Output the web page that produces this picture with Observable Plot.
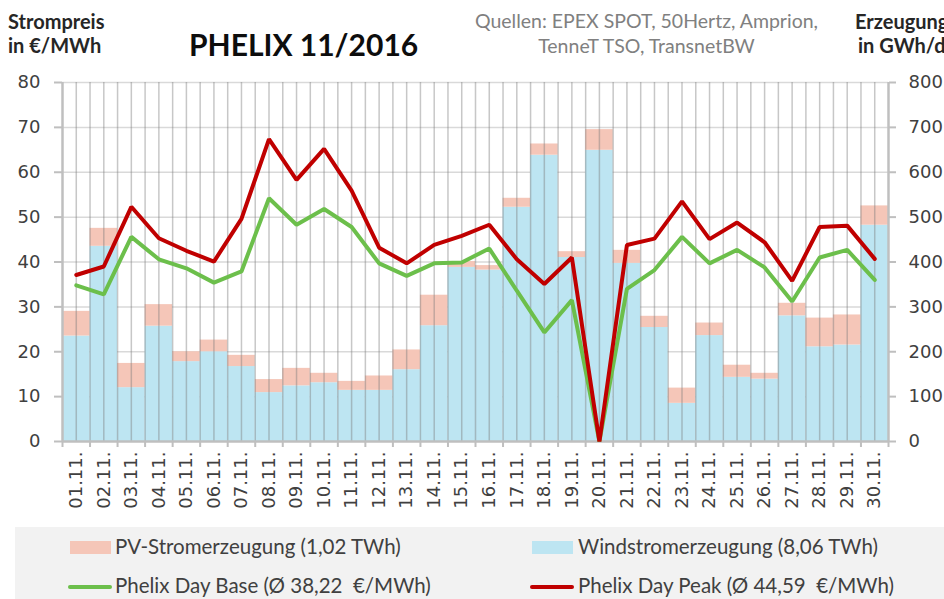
<!DOCTYPE html>
<html><head><meta charset="utf-8">
<script src="https://cdn.jsdelivr.net/npm/d3@7"></script>
<script src="https://cdn.jsdelivr.net/npm/@observablehq/plot@0.6"></script>
<style>
html,body{margin:0;padding:0;background:#fff;}
#wrap{position:relative;width:944px;height:599px;overflow:hidden;font-family:Lato,"Open Sans",sans-serif;}
.t{position:absolute;white-space:nowrap;line-height:1;}
#chart{position:absolute;left:0;top:0;}
.legend{position:absolute;left:15px;top:527px;width:929px;height:72px;background:#f2f2f2;}
.sw{position:absolute;}
.lt{position:absolute;white-space:pre;line-height:1;font-size:20.5px;color:#404040;}
</style></head>
<body><div id="wrap">
<div id="chart"></div>
<div class="t" style="left:8px;top:11px;font-weight:bold;font-size:20px;color:#262626;">Strompreis</div>
<div class="t" style="left:8px;top:35px;font-weight:bold;font-size:20px;color:#262626;">in €/MWh</div>
<div class="t" style="left:189px;top:29px;font-weight:bold;font-size:30px;color:#0d0d0d;">PHELIX 11/2016</div>
<div class="t" style="left:465px;top:11px;width:363px;text-align:center;font-size:19.5px;color:#808080;">Quellen: EPEX SPOT, 50Hertz, Amprion,</div>
<div class="t" style="left:465px;top:36px;width:363px;text-align:center;font-size:19.5px;color:#808080;">TenneT TSO, TransnetBW</div>
<div class="t" style="left:855px;top:11px;font-weight:bold;font-size:20px;color:#262626;">Erzeugung</div>
<div class="t" style="left:858px;top:35px;font-weight:bold;font-size:20px;color:#262626;">in GWh/d</div>
<div class="legend"></div>
<div id="leg"></div>
</div>
<script>
// Categories (tick labels)
const days = ["01.11.","02.11.","03.11.","04.11.","05.11.","06.11.","07.11.","08.11.","09.11.","10.11.",
  "11.11.","12.11.","13.11.","14.11.","15.11.","16.11.","17.11.","18.11.","19.11.","20.11.",
  "21.11.","22.11.","23.11.","24.11.","25.11.","26.11.","27.11.","28.11.","29.11.","30.11."];
// Windstromerzeugung in GWh/d
const wind = [235,435,120,257,178,200,167,109,124,131,114,114,160,258,388,382,522,638,410,649,
  397,254,85,236,143,139,280,211,215,482];
// PV-Stromerzeugung in GWh/d
const pv = [55,40,54,48,22,26,25,29,39,21,20,32,44,68,13,10,20,25,13,46,
  29,25,34,28,27,13,28,64,67,43];
// Phelix Day Base in €/MWh
const base = [34.8,32.8,45.6,40.6,38.6,35.4,37.9,54.2,48.3,51.8,47.8,39.7,36.9,39.7,39.9,43.0,33.6,24.3,31.5,0,
  34.0,38.2,45.6,39.7,42.7,38.8,31.2,41.0,42.7,36.0];
// Phelix Day Peak in €/MWh
const peak = [37.1,39.0,52.3,45.3,42.5,40.1,49.6,67.4,58.3,65.2,55.9,43.2,39.7,43.8,45.8,48.3,40.6,35.1,41.0,0,
  43.8,45.2,53.5,45.1,48.8,44.4,35.8,47.8,48.1,40.7];
// Axis tick labels
const priceTicks = [0,10,20,30,40,50,60,70,80];
const genTicks = [0,100,200,300,400,500,600,700,800];
const genPerPrice = 10; // right axis: 800 GWh/d ↔ 80 €/MWh

const legendItems = [
  {label:"PV-Stromerzeugung (1,02 TWh)", kind:"box", color:"#f5c6b8"},
  {label:"Windstromerzeugung (8,06 TWh)", kind:"box", color:"#bde5f2"},
  {label:"Phelix Day Base (Ø 38,22  €/MWh)", kind:"line", color:"#6cbf4b"},
  {label:"Phelix Day Peak (Ø 44,59  €/MWh)", kind:"line", color:"#c00000"}
];

const rows = days.map((d, i) => ({i: i + 1, day: d, wind: wind[i], pv: pv[i], base: base[i], peak: peak[i]}));
const gridX = d3.range(1, 30.5, 0.5);

const chart = Plot.plot({
  width: 944,
  height: 520,
  marginTop: 82,
  marginBottom: 79,
  marginLeft: 62,
  marginRight: 56,
  style: {fontFamily: "DejaVu Sans", fontSize: "18px", color: "#404040", background: "transparent", overflow: "visible"},
  x: {type: "linear", domain: [0.5, 30.5], axis: null},
  y: {domain: [0, 80], axis: null},
  marks: [
    Plot.ruleY(priceTicks.slice(1), {stroke: "#d9d9d9", strokeWidth: 1.5}),
    Plot.rectY(rows, {x1: d => d.i - 0.5, x2: d => d.i + 0.5, y1: 0, y2: d => d.wind / genPerPrice, fill: legendItems[1].color}),
    Plot.rectY(rows, {x1: d => d.i - 0.5, x2: d => d.i + 0.5, y1: d => d.wind / genPerPrice, y2: d => (d.wind + d.pv) / genPerPrice, fill: legendItems[0].color}),
    Plot.ruleX(gridX, {stroke: "#7a7a7a", strokeOpacity: 0.42, strokeWidth: 1.5}),
    Plot.ruleX([0.5, 30.5], {stroke: "#bfbfbf", strokeWidth: 2.5}),
    Plot.ruleY([0], {stroke: "#bfbfbf", strokeWidth: 2.5}),
    Plot.line(rows, {x: "i", y: "base", stroke: legendItems[2].color, strokeWidth: 4, strokeLinejoin: "miter"}),
    Plot.line(rows, {x: "i", y: "peak", stroke: legendItems[3].color, strokeWidth: 4, strokeLinejoin: "miter"}),
    Plot.axisY({anchor: "left", ticks: priceTicks, tickSize: 8, tickPadding: 14, stroke: "#bfbfbf", strokeWidth: 2, fill: "#404040", label: null}),
    Plot.axisY({anchor: "right", ticks: priceTicks, tickFormat: (d, k) => genTicks[k], tickSize: 7, tickPadding: 13, stroke: "#bfbfbf", strokeWidth: 2, fill: "#404040", label: null}),
    Plot.axisX({anchor: "bottom", ticks: d3.range(0.5, 31, 1), tickFormat: () => "", tickSize: 6, stroke: "#bfbfbf", strokeWidth: 2, label: null}),
    Plot.axisX({anchor: "bottom", ticks: rows.map(d => d.i), tickFormat: i => days[i - 1], tickSize: 0, tickRotate: -90, tickPadding: 10, fill: "#404040", label: null})
  ]
});
document.getElementById("chart").appendChild(chart);

// Legend
const leg = document.getElementById("leg");
const pos = [
  {sx: 70, tx: 115, y: 548}, {sx: 532, tx: 578, y: 548},
  {sx: 68, tx: 115, y: 587}, {sx: 530, tx: 578, y: 587}
];
legendItems.forEach((it, k) => {
  const p = pos[k];
  const s = document.createElement("div");
  s.className = "sw";
  if (it.kind === "box") {
    Object.assign(s.style, {left: p.sx + "px", top: (p.y - 7) + "px", width: "41px", height: "13px", background: it.color});
  } else {
    Object.assign(s.style, {left: p.sx + "px", top: (p.y - 2) + "px", width: "44px", height: "4px", background: it.color, borderRadius: "2px"});
  }
  leg.appendChild(s);
  const t = document.createElement("div");
  t.className = "lt";
  t.textContent = it.label;
  Object.assign(t.style, {left: p.tx + "px", top: (p.y - 12) + "px"});
  leg.appendChild(t);
});
</script>
</body></html>
